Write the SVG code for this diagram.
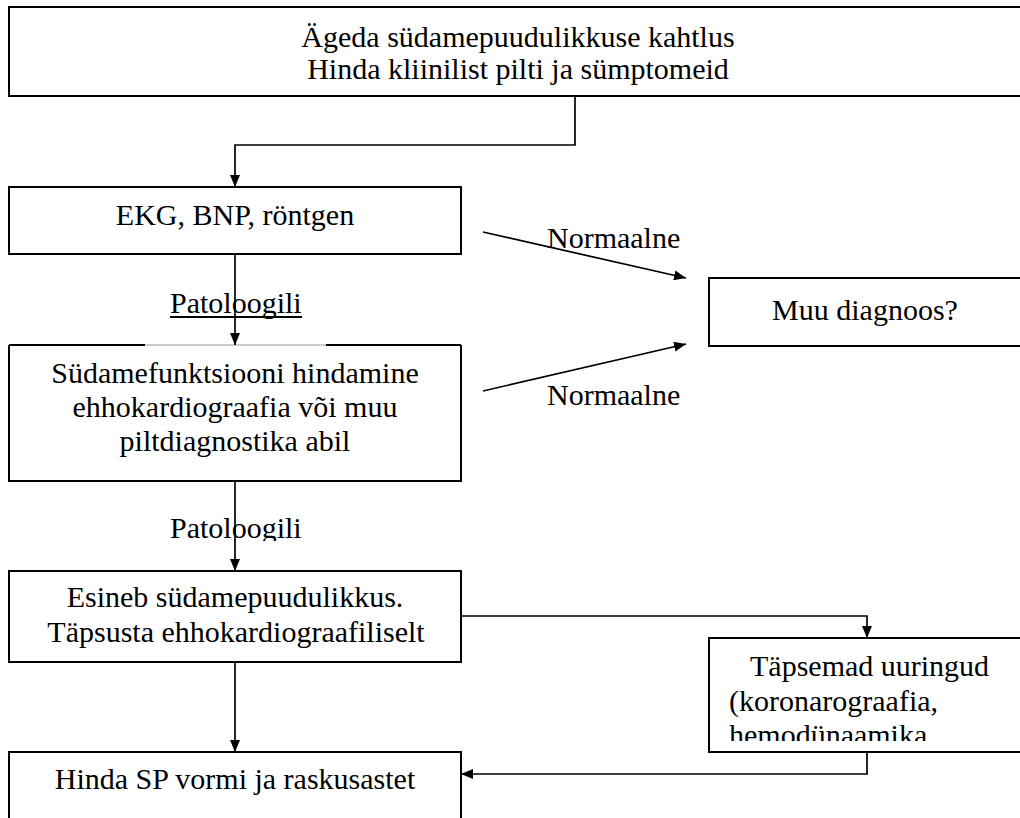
<svg xmlns="http://www.w3.org/2000/svg" width="1020" height="818" viewBox="0 0 1020 818">
<style>
.box{fill:#fff;stroke:#000;stroke-width:2}
.t{font-family:"Liberation Serif","Times New Roman",serif;font-size:30px;fill:#000}
.c{text-anchor:middle}
.ln{fill:none;stroke:#000;stroke-width:1.7}
</style>
<defs>
<marker id="ah" viewBox="0 0 12 10" refX="12" refY="5" markerWidth="12" markerHeight="10" markerUnits="userSpaceOnUse" orient="auto">
<path d="M0,0 L12,5 L0,10 Z" fill="#000"/>
</marker>
<clipPath id="clipPat2"><rect x="150" y="500" width="200" height="41"/></clipPath>
<clipPath id="clipB5"><rect x="712" y="640" width="320" height="101"/></clipPath>
</defs>
<rect width="1020" height="818" fill="#fff"/>

<g id="n1">
<rect class="box" x="9" y="7" width="1030" height="89"/>
<text class="t c" x="518" y="47">Ägeda südamepuudulikkuse kahtlus</text>
<text class="t c" x="518" y="79">Hinda kliinilist pilti ja sümptomeid</text>
</g>

<g id="n2">
<rect class="box" x="9" y="187" width="452" height="67"/>
<text class="t c" x="235" y="225">EKG, BNP, röntgen</text>
</g>

<g id="n3">
<path d="M9,345 V481 H461 V345" class="box"/>
<path d="M9,345 H145 M326,345 H461" fill="none" stroke="#000" stroke-width="2"/>
<path d="M145,345 H326" fill="none" stroke="#999" stroke-width="1"/>
<text class="t c" x="235" y="383">Südamefunktsiooni hindamine</text>
<text class="t c" x="235" y="417">ehhokardiograafia või muu</text>
<text class="t c" x="235" y="451">piltdiagnostika abil</text>
</g>

<g id="n4">
<rect class="box" x="709" y="278" width="330" height="68"/>
<text class="t c" x="865" y="320">Muu diagnoos?</text>
</g>

<g id="n5">
<rect class="box" x="9" y="571" width="452" height="91"/>
<text class="t c" x="235" y="607">Esineb südamepuudulikkus.</text>
<text class="t c" x="236" y="642">Täpsusta ehhokardiograafiliselt</text>
</g>

<g id="n6">
<rect class="box" x="709" y="638" width="330" height="114"/>
<g clip-path="url(#clipB5)">
<text class="t" x="750" y="676">Täpsemad uuringud</text>
<text class="t" x="729" y="710.5">(koronarograafia,</text>
<text class="t" x="729" y="745">hemodünaamika</text>
</g>
</g>

<g id="n7">
<rect class="box" x="9" y="752" width="452" height="90"/>
<text class="t c" x="235" y="789">Hinda SP vormi ja raskusastet</text>
</g>

<g id="labels">
<text class="t" x="170" y="313">Patoloogili</text>
<line x1="170" y1="317" x2="302" y2="317" stroke="#000" stroke-width="2"/>
<text class="t" x="170" y="538" clip-path="url(#clipPat2)">Patoloogili</text>
<text class="t" x="547" y="248">Normaalne</text>
<text class="t" x="547" y="405">Normaalne</text>
</g>

<g id="connectors">
<path class="ln" d="M575,96 V145 H235 V187" marker-end="url(#ah)"/>
<path class="ln" d="M235,254 V345" marker-end="url(#ah)"/>
<path class="ln" d="M235,481 V571" marker-end="url(#ah)"/>
<path class="ln" d="M235,662 V752" marker-end="url(#ah)"/>
<path class="ln" d="M483,232 L686,278" marker-end="url(#ah)"/>
<path class="ln" d="M483,391 L686,344" marker-end="url(#ah)"/>
<path class="ln" d="M461,616 H867 V638" marker-end="url(#ah)"/>
<path class="ln" d="M867,752 V774 H461" marker-end="url(#ah)"/>
</g>
</svg>
